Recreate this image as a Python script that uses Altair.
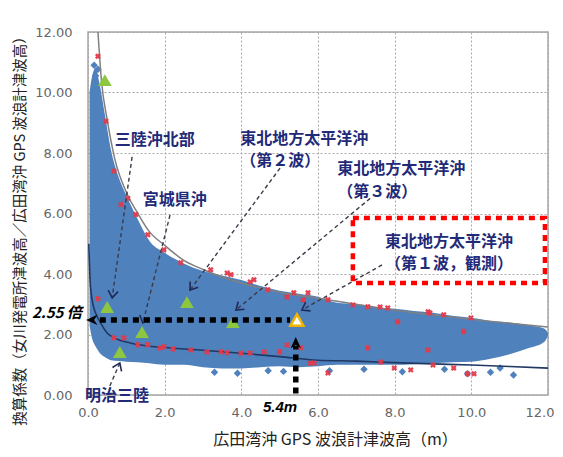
import math
import altair as alt
import pandas as pd

# ---------------- data ----------------
# dense cloud of blue diamonds: upper / lower envelope
cloud_x = [0.04, 0.1, 0.2, 0.3, 0.45, 0.6, 0.8, 1.0, 1.3, 1.6, 2.0, 2.5, 3.0, 3.5, 4.0, 4.5,
           5.0, 5.5, 6.0, 6.5, 7.0, 7.5, 8.0, 8.5, 9.0, 9.5, 10.0, 10.5, 11.0, 11.5, 11.9, 12.0]
cloud_hi = [10.0, 10.5, 10.8, 10.3, 9.2, 8.1, 7.2, 6.6, 5.8, 5.1, 4.7, 4.35, 4.1, 3.95, 3.8, 3.6,
            3.45, 3.35, 3.25, 3.05, 3.0, 2.9, 2.85, 2.78, 2.72, 2.62, 2.55, 2.45, 2.4, 2.3, 2.2, 2.05]
cloud_lo = [2.3, 1.9, 1.6, 1.4, 1.25, 1.15, 1.12, 1.1, 1.08, 1.05, 1.0, 1.0, 0.92, 0.88, 0.88, 0.92,
            0.95, 0.92, 0.95, 1.0, 1.0, 1.0, 1.0, 1.02, 1.05, 1.08, 1.1, 1.2, 1.35, 1.55, 1.75, 1.95]

# isolated diamonds outside the dense part
out_x = [0.16, 0.2, 0.26, 3.3, 3.9, 4.7, 5.1, 6.3, 7.2, 8.2, 9.3, 9.9, 10.5, 10.75, 11.1]
out_y = [10.9, 10.55, 10.77, 0.75, 0.72, 0.8, 0.78, 0.8, 0.85, 0.77, 0.85, 0.7, 0.75, 0.89, 0.66]

# upper envelope curve (grey)
up_x = [0.26, 0.35, 0.5, 0.7, 1.0, 1.3, 1.6, 2.0, 2.5, 3.0, 4.0, 5.0, 6.0, 7.0, 8.0, 9.0, 10.0, 11.0, 12.0]
up_y = [12.0, 10.4, 9.1, 7.8, 6.7, 6.0, 5.4, 4.95, 4.45, 4.15, 3.7, 3.4, 3.2, 3.0, 2.8, 2.65, 2.5, 2.37, 2.25]

# lower envelope curve (navy)
lo_x = [0.02, 0.05, 0.1, 0.2, 0.3, 0.5, 0.75, 1.1, 1.5, 2.0, 3.0, 4.0, 5.0, 6.0, 7.0, 8.0, 9.0, 10.0, 11.0, 12.0]
lo_y = [5.0, 3.9, 3.2, 2.7, 2.45, 2.05, 1.85, 1.72, 1.63, 1.57, 1.48, 1.38, 1.27, 1.15, 1.12, 1.07, 1.03, 0.99, 0.94, 0.89]

# red x markers
red_x = [0.26, 0.47, 0.68, 0.86, 1.04, 1.25, 1.56, 1.98, 2.42, 3.2, 3.63, 3.73, 4.23, 4.33, 4.69, 5.19,
         5.37, 5.61, 5.74, 6.26, 6.91, 7.3, 7.62, 7.82, 8.08, 8.87, 8.92, 9.28, 9.8, 9.99,
         0.26, 0.68, 0.94, 1.3, 1.56, 1.88, 1.98, 2.22, 2.68, 3.1, 3.47, 3.63, 3.99, 4.23, 4.6,
         5.0, 5.19, 5.55, 5.8, 5.9, 6.26, 7.3, 7.64, 7.99, 8.42, 8.87, 9.0, 9.54, 9.9, 10.07]
red_y = [11.2, 9.05, 7.4, 6.3, 6.5, 5.97, 5.3, 4.8, 4.37, 4.14, 4.03, 3.98, 3.74, 3.81, 3.48, 3.24,
         3.38, 3.14, 3.38, 3.15, 2.98, 2.92, 2.91, 2.88, 2.42, 2.75, 2.71, 2.65, 2.1, 2.55,
         3.18, 1.89, 1.89, 1.66, 1.66, 1.55, 1.6, 1.52, 1.49, 1.42, 1.43, 1.4, 1.38, 1.39, 1.43,
         1.43, 1.65, 1.56, 1.05, 1.06, 0.73, 1.56, 1.09, 0.89, 0.83, 1.49, 0.99, 0.89, 0.7, 0.7]

# green triangles (historical events) and the observed one
tri_x = [0.44, 0.5, 1.41, 0.83, 2.58, 3.78]
tri_y = [10.41, 2.91, 2.08, 1.42, 3.07, 2.41]
obs_x = [5.45]
obs_y = [2.48]

# labels
lab_text = ["三陸沖北部", "宮城県沖", "東北地方太平洋沖", "（第２波）", "東北地方太平洋沖", "（第３波）",
            "東北地方太平洋沖", "（第１波，観測）", "明治三陸"]
lab_x = [0.70, 1.43, 3.97, 3.97, 6.50, 6.50, 7.75, 7.75, -0.08]
lab_y = [8.43, 6.45, 8.47, 7.74, 7.48, 6.72, 5.06, 4.33, -0.02]

# dashed arrows: start -> tip
arr_x = [1.15, 2.14, 5.01, 7.36, 7.67, 0.57]
arr_y = [7.87, 5.95, 7.50, 6.50, 4.30, 0.30]
arr_x2 = [0.63, 1.43, 2.66, 3.86, 5.58, 0.83]
arr_y2 = [3.21, 2.38, 3.47, 2.81, 2.81, 1.06]

# red dashed box
box_x, box_x2, box_y, box_y2 = [6.91], [11.92], [5.85], [3.70]

# black dotted reading lines
dot_x = [0.31, 5.42]
dot_y = [2.48, 0.05]
dot_x2 = [5.27, 5.42]
dot_y2 = [2.48, 1.62]
head_x = [-0.05, 5.42]
head_y = [2.48, 1.92]
head_dir = [180, 270]

note_text = ["2.55 倍", "5.4m"]
note_x = [-0.16, 5.01]
note_y = [2.71, -0.40]

# ---------------- chart ----------------
W, H = 460, 363
SX, SY = W / 12.0, H / 12.0

BLUE = "#4f81bd"
NAVY = "#1f2a78"
JP = "Noto Sans CJK JP"

xs = alt.Scale(domain=[0, 12], nice=False, zero=False)
ys = alt.Scale(domain=[0, 12], nice=False, zero=False)

x_axis = alt.Axis(
    title="広田湾沖 GPS 波浪計津波高（m）", values=[0, 2, 4, 6, 8, 10, 12], format=".1f",
    grid=True, gridDash=[2, 2], gridColor="#a8a8a8", gridWidth=1, domain=False, ticks=False,
    labelFont="DejaVu Sans", labelFontSize=13, labelColor="#666666", labelPadding=11,
    labelFlush=False, labelOverlap=False,
    labelAlign={"condition": {"test": "datum.value == 12", "value": "right"}, "value": "center"},
    labelOffset={"condition": {"test": "datum.value == 12", "value": 6}, "value": 0},
    titleFont=JP, titleFontSize=16, titleFontWeight="normal", titleColor="#222222",
    titleX=247, titleY=44, titleAlign="center", titleBaseline="middle",
)
y_axis = alt.Axis(
    title="換算係数（女川発電所津波高／広田湾沖 GPS 波浪計津波高）", values=[0, 2, 4, 6, 8, 10, 12],
    format=".2f", grid=True, gridDash=[2, 2], gridColor="#a8a8a8", gridWidth=1, domain=False,
    ticks=False, labelFont="DejaVu Sans", labelFontSize=13, labelColor="#666666", labelPadding=16,
    labelFlush=False, labelOverlap=False,
    titleFont=JP, titleFontSize=14.5, titleFontWeight="normal", titleColor="#222222",
    titleAngle=270, titleX=-68, titleY=195, titleAlign="center", titleBaseline="middle",
)


def X(f="x"):
    return alt.X(f, type="quantitative", scale=xs, axis=x_axis)


def Y(f="y"):
    return alt.Y(f, type="quantitative", scale=ys, axis=y_axis)


cloud = alt.Chart(pd.DataFrame({"x": cloud_x, "y": cloud_hi, "lo": cloud_lo})).mark_area(
    color=BLUE, interpolate="monotone", opacity=1
).encode(x=X(), y=Y(), y2="lo")

outl = alt.Chart(pd.DataFrame({"x": out_x, "y": out_y})).mark_point(
    shape="diamond", filled=True, color=BLUE, size=55, opacity=1
).encode(x=X(), y=Y())

up_line = alt.Chart(pd.DataFrame({"x": up_x, "y": up_y})).mark_line(
    color="#808080", strokeWidth=1.5, interpolate="monotone"
).encode(x=X(), y=Y())

lo_line = alt.Chart(pd.DataFrame({"x": lo_x, "y": lo_y})).mark_line(
    color="#1f3864", strokeWidth=1.6, interpolate="monotone"
).encode(x=X(), y=Y())

reds = alt.Chart(pd.DataFrame({"x": red_x, "y": red_y})).mark_point(
    shape="cross", angle=45, filled=True, color="#e23a4a", size=36, opacity=0.95
).encode(x=X(), y=Y())

arrows = pd.DataFrame({"x": arr_x, "y": arr_y, "x2": arr_x2, "y2": arr_y2})
arrows["ang"] = [
    (math.degrees(math.atan2(-(b2 - b) * SY, (a2 - a) * SX)) + 360) % 360
    for a, b, a2, b2 in zip(arr_x, arr_y, arr_x2, arr_y2)
]
arr_lines = alt.Chart(arrows).mark_rule(
    color="#3a3a4a", strokeWidth=1.4, strokeDash=[4, 3]
).encode(x=X(), y=Y(), x2="x2", y2="y2")

arr_heads = alt.Chart(arrows).mark_point(
    shape="M-1,-0.7L0,0L-1,0.7", filled=False, color="#1f2a58", strokeWidth=1.6, size=200, opacity=1
).encode(x=X("x2"), y=Y("y2"), angle=alt.Angle("ang:Q", scale=None))

tris = alt.Chart(pd.DataFrame({"x": tri_x, "y": tri_y})).mark_point(
    shape="triangle-up", filled=True, color="#8dc63f", size=190, opacity=1
).encode(x=X(), y=Y())

obs = alt.Chart(pd.DataFrame({"x": obs_x, "y": obs_y})).mark_point(
    shape="triangle-up", filled=True, fill="white", stroke="#f0b400", strokeWidth=2.5,
    size=170, opacity=1
).encode(x=X(), y=Y())

dots = alt.Chart(pd.DataFrame({"x": dot_x, "y": dot_y, "x2": dot_x2, "y2": dot_y2})).mark_rule(
    color="black", strokeWidth=5.5, strokeDash=[6, 5], strokeCap="butt"
).encode(x=X(), y=Y(), x2="x2", y2="y2")

heads = alt.Chart(pd.DataFrame({"x": head_x, "y": head_y, "ang": head_dir})).mark_point(
    shape="M0,0L-1,-0.45L-0.7,0L-1,0.45Z", filled=True, color="black", size=520, opacity=1
).encode(x=X(), y=Y(), angle=alt.Angle("ang:Q", scale=None))

box = alt.Chart(pd.DataFrame({"x": box_x, "x2": box_x2, "y": box_y, "y2": box_y2})).mark_rect(
    fill=None, fillOpacity=0, stroke="#ff0000", strokeWidth=4.5, strokeDash=[6, 5]
).encode(x=X(), y=Y(), x2="x2", y2="y2")

labels = alt.Chart(pd.DataFrame({"x": lab_x, "y": lab_y, "t": lab_text})).mark_text(
    font=JP, fontSize=16, fontWeight="bold", color=NAVY, align="left", baseline="middle"
).encode(x=X(), y=Y(), text="t:N")

notes_df = pd.DataFrame({"x": note_x, "y": note_y, "t": note_text})
note_l = alt.Chart(notes_df.iloc[[0]]).mark_text(
    font=JP, fontSize=15, fontWeight="bold", fontStyle="italic", color="black",
    align="right", baseline="middle"
).encode(x=X(), y=Y(), text="t:N")
note_r = alt.Chart(notes_df.iloc[[1]]).mark_text(
    font="Liberation Sans", fontSize=15, fontWeight="bold", fontStyle="italic", color="black",
    align="center", baseline="middle"
).encode(x=X(), y=Y(), text="t:N")

chart = alt.layer(
    cloud, outl, up_line, lo_line, reds, arr_lines, arr_heads, tris, dots, obs, heads, box,
    labels, note_l, note_r
).properties(
    width=W, height=H, autosize="none",
    padding={"left": 80, "top": 24, "right": 7, "bottom": 54},
    background="white",
).configure_view(stroke="#a6a6a6", strokeWidth=1.5)

chart.save("out.html", embed_options={"renderer": "svg", "actions": False})
